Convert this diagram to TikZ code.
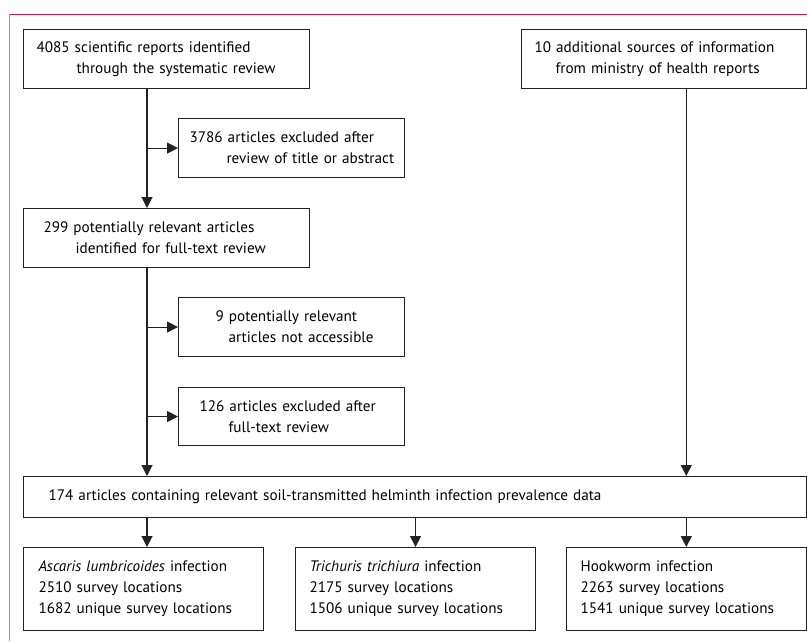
\documentclass[tikz,border=0pt]{standalone}
\usepackage{fontspec}
\setmainfont{PT Sans}
\usetikzlibrary{arrows.meta,calc}
\definecolor{frameTop}{HTML}{C8194B}
\definecolor{frameLeft}{HTML}{E0709A}
\definecolor{boxline}{HTML}{222222}
\begin{document}
\begin{tikzpicture}[x=1pt,y=-1pt,
  box/.style={draw=boxline, line width=1.1pt, rectangle, anchor=north west,
    inner xsep=0pt, inner ysep=0pt, align=left,
    font=\fontsize{15.2}{21}\selectfont, text=black},
  arr/.style={draw=boxline, line width=1.1pt, -{Triangle[width=11pt,length=11pt]}},
  ln/.style={draw=boxline, line width=1.1pt}]
\useasboundingbox (0,0) rectangle (807,641);
\draw[frameTop, line width=1pt] (9,14) -- (807,14);
\draw[frameLeft, line width=1pt] (9,14) -- (9,641);
\coordinate (sx) at (147,0);

\node[box, text width=286pt, minimum height=59pt] (b1) at (23,29)
  {\hspace*{13pt}4085 scientific reports identified\\\hspace*{53pt}through the systematic review};
\node[box, text width=284.5pt, minimum height=59pt] (b10) at (521,29)
  {\hspace*{13pt}10 additional sources of information\\\hspace*{34pt}from ministry of health reports};
\node[box, text width=226pt, minimum height=59pt] (e1) at (178,118)
  {\hspace*{11pt}3786 articles excluded after\\\hspace*{48pt}review of title or abstract};
\node[box, text width=286pt, minimum height=59pt] (b299) at (23,208)
  {\hspace*{20pt}299 potentially relevant articles\\\hspace*{52pt}identified for full-text review};
\node[box, text width=226pt, minimum height=59pt] (e9) at (178,297)
  {\hspace*{37pt}9 potentially relevant\\\hspace*{50pt}articles not accessible};
\node[box, text width=226pt, minimum height=58pt] (e126) at (178,387)
  {\hspace*{21pt}126 articles excluded after\\\hspace*{50pt}full-text review};
\node[box, text width=782.5pt, minimum height=41pt] (b174) at (23,476)
  {\hspace*{25pt}174 articles containing relevant soil-transmitted helminth infection prevalence data};
\node[box, text width=240pt, minimum height=83pt] (bA) at (23,547)
  {\hspace*{15pt}\textit{Ascaris lumbricoides} infection\\\hspace*{15pt}2510 survey locations\\\hspace*{15pt}1682 unique survey locations};
\node[box, text width=240pt, minimum height=83pt] (bT) at (295,547)
  {\hspace*{14pt}\textit{Trichuris trichiura} infection\\\hspace*{14pt}2175 survey locations\\\hspace*{14pt}1506 unique survey locations};
\node[box, text width=239.5pt, minimum height=83pt] (bH) at (566,547)
  {\hspace*{14pt}Hookworm infection\\\hspace*{14pt}2263 survey locations\\\hspace*{14pt}1541 unique survey locations};

\draw[arr] (b1.south -| sx) -- (b299.north -| sx);
\draw[arr] (sx |- e1.west) -- (e1.west);
\draw[arr] (b299.south -| sx) -- (b174.north -| sx);
\draw[arr] (sx |- e9.west) -- (e9.west);
\draw[arr] (sx |- e126.west) -- (e126.west);
\draw[arr] (b10.south -| bH.north) -- (b174.north -| bH.north);
\draw[arr] (b174.south -| sx) -- (bA.north -| sx);
\draw[arr] (b174.south -| bT.north) -- (bT.north);
\draw[arr] (b174.south -| bH.north) -- (bH.north);
\end{tikzpicture}
\end{document}
